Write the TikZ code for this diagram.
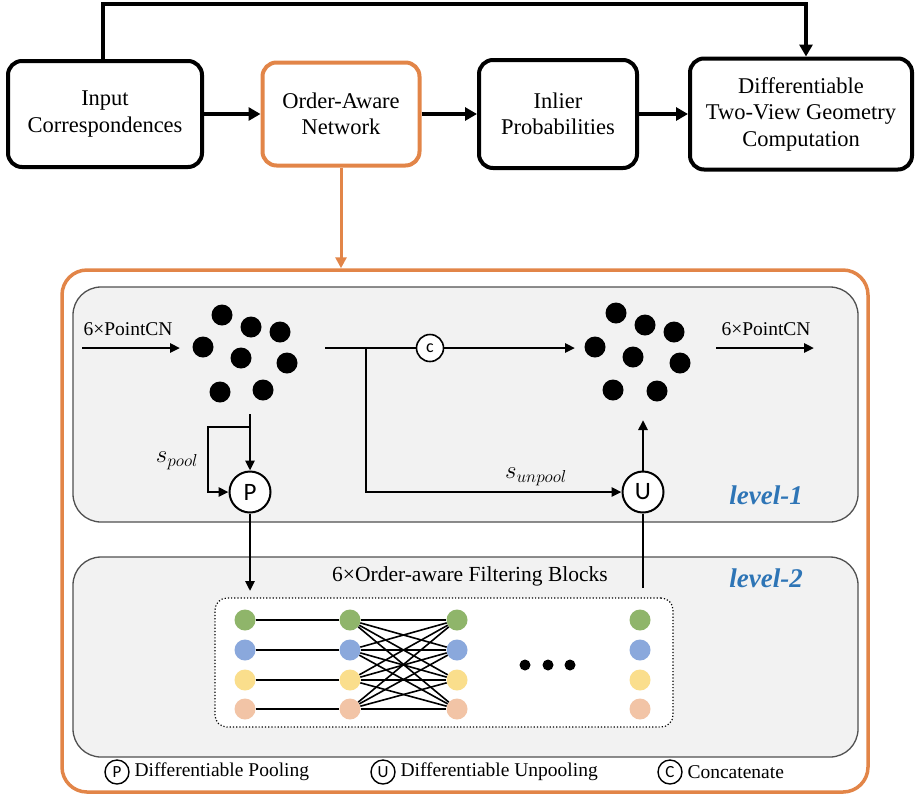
\documentclass[tikz,border=0pt]{standalone}
\usepackage{fontspec}
\setmainfont{Liberation Serif}
\newfontfamily\carl{Carlito}
\usetikzlibrary{arrows.meta}
\definecolor{orng}{RGB}{226,133,72}
\definecolor{lgray}{RGB}{242,242,242}
\definecolor{dgray}{RGB}{80,80,80}
\definecolor{lvblue}{RGB}{46,117,182}
\definecolor{cgreen}{RGB}{143,181,106}
\definecolor{cblue}{RGB}{138,168,220}
\definecolor{cyellow}{RGB}{250,222,140}
\definecolor{cpeach}{RGB}{242,196,166}
\tikzset{
  topbox/.style={draw, rounded corners=14pt, line width=4pt, align=center, inner sep=0pt, font=\fontsize{22.5}{26.5}\selectfont},
  bigarrow/.style={line width=4.5pt, -{Triangle[length=12pt,width=13pt]}},
  thinarrow/.style={line width=2.5pt, -{Triangle[length=10pt,width=9pt]}},
  thinline/.style={line width=2.5pt},
  blackdot/.style={circle, fill=black, inner sep=0pt, minimum size=21pt},
  cdot/.style={circle, inner sep=0pt, minimum size=21pt},
  opcirc/.style={circle, draw, line width=2pt, fill=white, inner sep=0pt, minimum size=41pt, font=\carl\fontsize{25}{25}\selectfont},
  legcirc/.style={circle, draw, line width=1.4pt, fill=white, inner sep=0pt, minimum size=24pt, font=\carl\fontsize{17}{17}\selectfont},
  lvlbox/.style={draw=dgray, fill=lgray, rounded corners=28pt, line width=1.3pt, inner sep=0pt},
  lvltext/.style={text=lvblue, font=\bfseries\itshape\fontsize{27}{27}\selectfont},
  smalltext/.style={font=\fontsize{19.5}{22}\selectfont},
}
\begin{document}
\begin{tikzpicture}[x=1pt,y=-1pt]
\useasboundingbox (0,0) rectangle (917,796);

% top boxes
\node[topbox, minimum width=194pt, minimum height=106pt] (b1) at (105,114) {Input\\Correspondences};
\node[topbox, draw=orng, minimum width=157pt, minimum height=103pt] (b2) at (341,114) {Order-Aware\\Network};
\node[topbox, minimum width=158pt, minimum height=108pt] (b3) at (558,114) {Inlier\\Probabilities};
\node[topbox, minimum width=222pt, minimum height=111pt] (b4) at (801,114) {Differentiable\\Two-View Geometry\\Computation};
\coordinate (topy) at (0,4);
\draw[bigarrow] (b1.east) -- (b2.west);
\draw[bigarrow] (b2.east) -- (b3.west);
\draw[bigarrow] (b3.east) -- (b4.west);
\draw[line width=3.5pt, -{Triangle[length=12pt,width=13pt]}] ([xshift=-2pt]b1.north) -- ([xshift=-2pt]b1.north |- topy) -| ([xshift=5pt]b4.north);

% outer orange box
\node[draw=orng, line width=3.5pt, rounded corners=25pt, minimum width=806pt, minimum height=522pt, inner sep=0pt] (outer) at (465,531) {};
\draw[orng, line width=3pt, -{Triangle[length=11pt,width=11pt]}] (b2.south) -- (b2.south |- outer.north);

% level boxes
\node[lvlbox, minimum width=785pt, minimum height=235pt] (lv1) at (465.5,404.5) {};
\node[lvlbox, minimum width=785pt, minimum height=200pt] (lv2) at (465.5,657) {};
\node[lvltext] (t1) at (766,495) {level-1};
\node[lvltext] (t2) at (766,578) {level-2};

% left cluster
\node[blackdot] (l1) at (222,315) {};
\node[blackdot] (l2) at (251,327) {};
\node[blackdot] (l3) at (280,332) {};
\node[blackdot] (l4) at (203,347) {};
\node[blackdot] (l5) at (241,358) {};
\node[blackdot] (l6) at (287,363) {};
\node[blackdot] (l7) at (220,392) {};
\node[blackdot] (l8) at (263,390) {};
% right cluster
\node[blackdot] (r1) at (616,313) {};
\node[blackdot] (r2) at (645,325) {};
\node[blackdot] (r3) at (674,332) {};
\node[blackdot] (r4) at (595,347) {};
\node[blackdot] (r5) at (633,357) {};
\node[blackdot] (r6) at (680,363) {};
\node[blackdot] (r7) at (613,390) {};
\node[blackdot] (r8) at (657,391) {};

% input / output arrows
\coordinate (inA) at (82,348);
\coordinate (inB) at (180,348);
\draw[thinarrow] (inA) -- (inB);
\node[smalltext, anchor=south west] (pcn1) at (80,339) {6×PointCN};
\coordinate (outA) at (716,348);
\coordinate (outB) at (814,348);
\draw[thinarrow] (outA) -- (outB);
\node[smalltext, anchor=south west] (pcn2) at (718,339) {6×PointCN};

% concat path
\node[opcirc, minimum size=27pt, line width=1.6pt, font=\carl\fontsize{18}{18}\selectfont] (C) at (430,348) {c};
\coordinate (sA) at (325,348);
\coordinate (sB) at (366,348);
\coordinate (cEnd) at (575,348);
\draw[thinline] (sA) -- (C);
\draw[thinarrow] (C) -- (cEnd);

% unpool
\node[opcirc] (U) at (643,492) {U};
\draw[thinarrow] (sB) |- (U.west);
\node[font=\fontsize{24}{24}\selectfont] (su) at (536,477) {$s_{unpool}$};
\coordinate (uTop) at (643,420);
\draw[thinarrow] (U.north) -- (uTop);
\coordinate (uBot) at (643,588);
\draw[thinline] (uBot) -- (U.south);

% pool
\node[opcirc] (P) at (250,492) {P};
\coordinate (pTop) at (250,414);
\coordinate (pBr) at (250,427);
\coordinate (pLeft) at (208,427);
\draw[thinarrow] (pTop) -- (P.north);
\draw[thinarrow] (pBr) -- (pLeft) |- (P.west);
\node[font=\fontsize{24}{24}\selectfont] (sp) at (177,461) {$s_{pool}$};
\coordinate (pBot) at (250,591);
\draw[thinarrow] (P.south) -- (pBot);

% level-2 content
\node[font=\fontsize{21.5}{24}\selectfont] (obt) at (470,576) {6×Order-aware Filtering Blocks};
\node[draw, dotted, line width=1.2pt, fill=white, rounded corners=12pt, minimum width=458pt, minimum height=129pt, inner sep=0pt] (dbox) at (444,662.5) {};

\foreach \c/\x in {1/245,2/350,3/457,4/640}{
  \node[cdot, fill=cgreen] (g\c) at (\x,620) {};
  \node[cdot, fill=cblue] (u\c) at (\x,650) {};
  \node[cdot, fill=cyellow] (y\c) at (\x,680) {};
  \node[cdot, fill=cpeach] (o\c) at (\x,709) {};
}
\foreach \n in {g,u,y,o}{
  \draw[line width=1.8pt] (\n1) -- (\n2);
  \foreach \m in {g,u,y,o}{
    \draw[line width=1.6pt] (\n2) -- (\m3);
  }
}
\node[circle, fill=black, inner sep=0pt, minimum size=11pt] (e1) at (525,665) {};
\node[circle, fill=black, inner sep=0pt, minimum size=11pt] (e2) at (548,665) {};
\node[circle, fill=black, inner sep=0pt, minimum size=11pt] (e3) at (570,665) {};

% legend
\node[legcirc] (lp) at (117,772) {P};
\node[smalltext, anchor=west] (ltp) at (131,772) {Differentiable Pooling};
\node[legcirc] (lu) at (383,772) {U};
\node[smalltext, anchor=west] (ltu) at (397,772) {Differentiable Unpooling};
\node[legcirc] (lc) at (670,772) {C};
\node[smalltext, anchor=west] (ltc) at (684,772) {Concatenate};
\end{tikzpicture}
\end{document}
